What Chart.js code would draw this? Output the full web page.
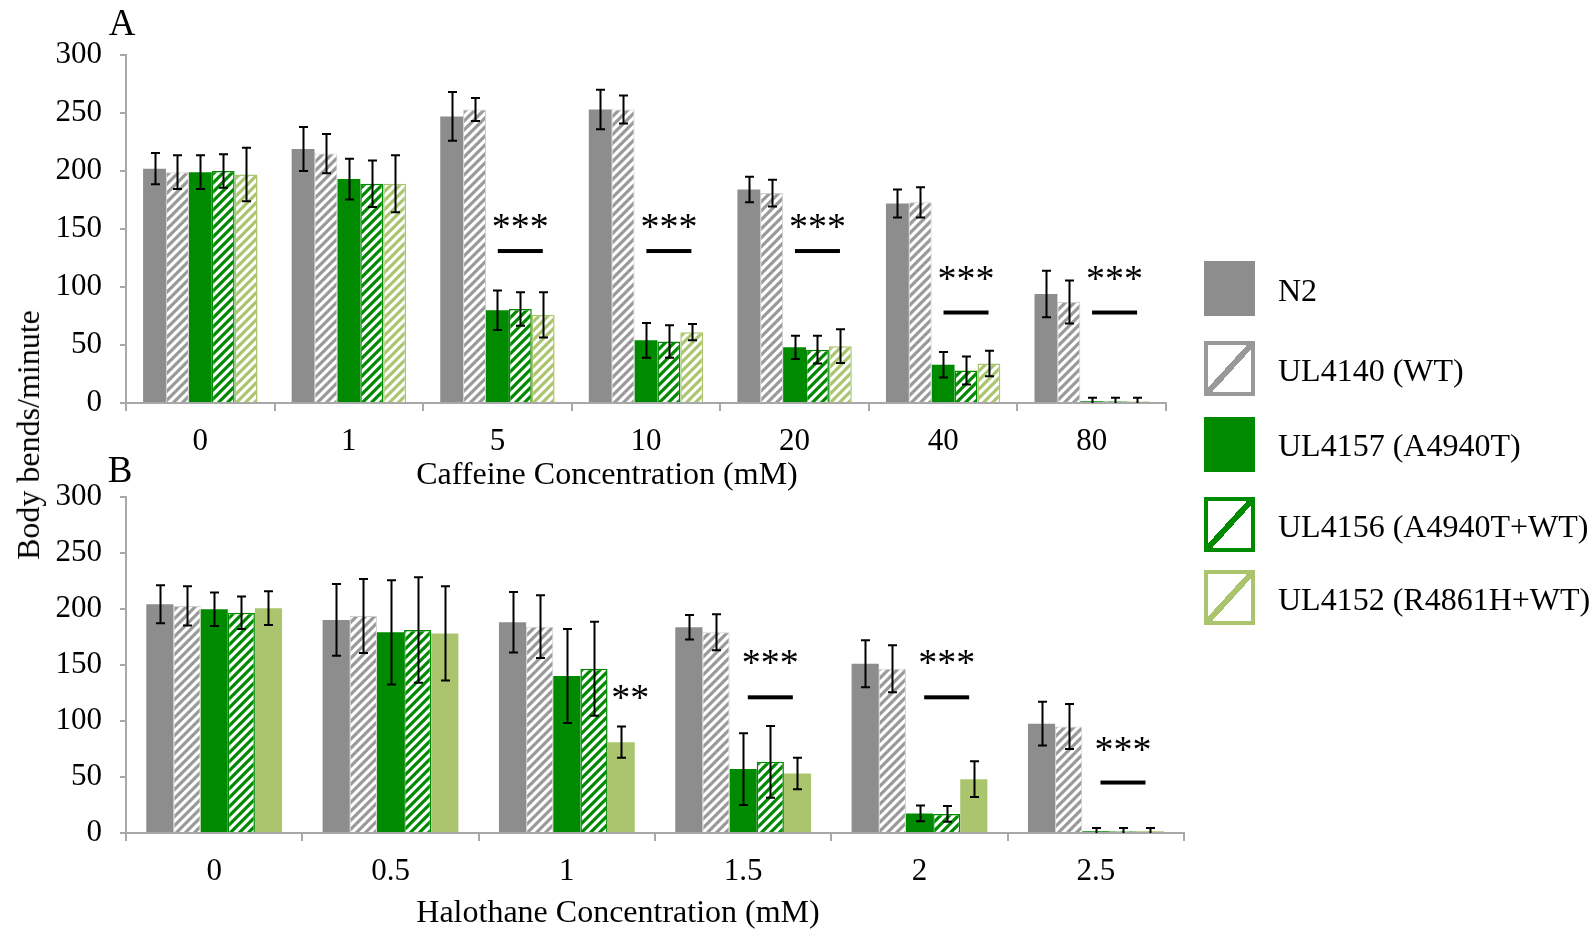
<!DOCTYPE html>
<html>
<head>
<meta charset="utf-8">
<script src="https://cdn.jsdelivr.net/npm/chart.js@4.4.0/dist/chart.umd.min.js"></script>
<style>
  html, body { margin: 0; padding: 0; background: #fff; }
  #page { position: relative; width: 1596px; height: 932px; overflow: hidden;
          font-family: "Liberation Serif", "Times New Roman", serif; color: #000; }
  canvas { position: absolute; left: 0; }
  .lbl { position: absolute; white-space: nowrap; line-height: 1; transform: translate(-50%, -50%); }
  .sw { position: absolute; left: 1204px; width: 51px; height: 55px; box-sizing: border-box; }
  .lg { position: absolute; left: 1278px; font-size: 32px; white-space: nowrap; line-height: 1; transform: translateY(-50%); }
</style>
</head>
<body>
<div id="page">
  <canvas id="chartA" width="1596" height="500" style="top:0"></canvas>
  <canvas id="chartB" width="1596" height="472" style="top:460px"></canvas>

  <div class="lbl" style="left:122px; top:22px; font-size:37px">A</div>
  <div class="lbl" style="left:120px; top:469px; font-size:37px">B</div>
  <div class="lbl" style="left:607px; top:473px; font-size:32px">Caffeine Concentration (mM)</div>
  <div class="lbl" style="left:618px; top:911px; font-size:32px">Halothane Concentration (mM)</div>
  <div class="lbl" style="left:28px; top:435px; font-size:32px; transform: translate(-50%, -50%) rotate(-90deg)">Body bends/minute</div>

  <!-- legend -->
  <div class="sw" style="top:261px; background:#8d8d8d"></div>
  <div class="lg" style="top:290px">N2</div>
  <div class="sw" style="top:341px; border:4px solid #999; background:linear-gradient(to bottom right, transparent calc(50% - 3px), #999 calc(50% - 3px), #999 calc(50% + 3px), transparent calc(50% + 3px)), #fff"></div>
  <div class="lg" style="top:370px">UL4140 (WT)</div>
  <div class="sw" style="top:417px; background:#008a00"></div>
  <div class="lg" style="top:445px">UL4157 (A4940T)</div>
  <div class="sw" style="top:497px; border:4px solid #008a00; background:linear-gradient(to bottom right, transparent calc(50% - 3px), #008a00 calc(50% - 3px), #008a00 calc(50% + 3px), transparent calc(50% + 3px)), #fff"></div>
  <div class="lg" style="top:526px">UL4156 (A4940T+WT)</div>
  <div class="sw" style="top:570px; border:4px solid #aac56e; background:linear-gradient(to bottom right, transparent calc(50% - 3px), #aac56e calc(50% - 3px), #aac56e calc(50% + 3px), transparent calc(50% + 3px)), #fff"></div>
  <div class="lg" style="top:599px">UL4152 (R4861H+WT)</div>
</div>

<script>
// ---- data, panel A (caffeine) ----
const catsA = ['0', '1', '5', '10', '20', '40', '80'];
const n2A      = [202, 219, 247, 253, 184, 172, 94];
const n2ErrA   = [13.5, 19, 21, 17, 11, 12, 20];
const wtA      = [199, 215, 253, 253, 181, 173, 87];
const wtErrA   = [14.5, 17, 10, 12, 11.5, 13, 18.5];
const a4940A   = [199, 193, 80, 54, 48, 33, 1.5];
const a4940ErrA= [14.5, 17.5, 17, 15, 10, 11, 3];
const awA      = [200, 189, 81, 53, 46, 28, 1.5];
const awErrA   = [14.5, 20, 14.5, 14, 12, 12, 3];
const rwA      = [197, 189, 76, 61, 49, 34, 1.5];
const rwErrA   = [23, 24.5, 19.5, 7, 14.5, 11, 3];

// ---- data, panel B (halothane) ----
const catsB = ['0', '0.5', '1', '1.5', '2', '2.5'];
const n2B      = [204, 190, 188, 183.5, 151, 97.5];
const n2ErrB   = [17, 32, 27, 11, 21, 19.5];
const wtB      = [202.5, 193.5, 184, 179, 146.5, 95];
const wtErrB   = [17.5, 33, 28, 16, 21, 20];
const a4940B   = [199.5, 179, 140, 57, 17.5, 1.5];
const a4940ErrB= [15, 46.5, 42, 32, 7, 3];
const awB      = [196.5, 181, 146.5, 63.5, 17, 1.5];
const awErrB   = [14.5, 47, 42, 32, 7, 3];
const rwB      = [200.5, 178, 81, 53, 48, 1.5];
const rwErrB   = [15, 42, 14, 14, 16, 3];

// significance marks: category index, text, text level, bar level
const sigCatsA  = [2, 3, 4, 5, 6];
const sigTextA  = ['***', '***', '***', '***', '***'];
const sigTextYA = [156, 156, 156, 111, 111];
const sigLineYA = [131, 131, 131, 78, 78];

const sigCatsB  = [2, 3, 4, 5];
const sigTextB  = ['**', '***', '***', '***'];
const sigTextYB = [125, 156, 156, 78];
const sigLineYB = [null, 121, 121, 45];

const FONT = '"Liberation Serif", "Times New Roman", serif';
const GRAY = '#8d8d8d', HGRAY = '#9a9a9a', GREEN = '#008a00', LIGHT = '#aac56e';
const AXIS = '#a8a8a8';

function hatch(color) {
  const s = 9;
  const c = document.createElement('canvas');
  c.width = s; c.height = s;
  const g = c.getContext('2d');
  g.fillStyle = '#fff';
  g.fillRect(0, 0, s, s);
  g.strokeStyle = color;
  g.lineWidth = 3.2;
  g.beginPath();
  for (let k = -1; k <= 1; k++) {
    g.moveTo(-s, 2 * s + k * s);
    g.lineTo(2 * s, -s + k * s);
  }
  g.stroke();
  return g.createPattern(c, 'repeat');
}

// error bars drawn from each dataset's errors array
const errorBars = {
  id: 'errorBars',
  afterDatasetsDraw(chart) {
    const ctx = chart.ctx, ys = chart.scales.y;
    ctx.save();
    ctx.strokeStyle = '#000';
    ctx.lineWidth = 2;
    chart.data.datasets.forEach((ds, i) => {
      chart.getDatasetMeta(i).data.forEach((bar, j) => {
        const v = ds.data[j], e = ds.errors[j];
        const top = ys.getPixelForValue(v + e);
        const bot = ys.getPixelForValue(Math.max(v - e, 0));
        const x = Math.round(bar.x) + 0.5;
        ctx.beginPath();
        ctx.moveTo(x, top); ctx.lineTo(x, bot);
        ctx.moveTo(x - 4.5, top); ctx.lineTo(x + 4.5, top);
        if (v - e > 0) { ctx.moveTo(x - 4.5, bot); ctx.lineTo(x + 4.5, bot); }
        ctx.stroke();
      });
    });
    ctx.restore();
  }
};

// asterisks + bars over the mutant groups
const sigMarks = {
  id: 'sigMarks',
  afterDraw(chart, args, opts) {
    const ctx = chart.ctx, ys = chart.scales.y;
    const mid = chart.getDatasetMeta(3).data;   // centre of the three green bars
    const last = chart.getDatasetMeta(4).data;
    const size = 38;
    ctx.save();
    ctx.fillStyle = '#000';
    ctx.textAlign = 'center';
    ctx.textBaseline = 'alphabetic';
    ctx.font = size + 'px ' + FONT;
    opts.cats.forEach((c, k) => {
      const label = opts.text[k];
      const x = label === '**' ? last[c].x + 9 : mid[c].x;
      // asterisk glyph centre sits ~0.44em above the baseline
      ctx.fillText(label, x, ys.getPixelForValue(opts.textY[k]) + size * 0.44);
      if (opts.lineY[k] != null) {
        const y = ys.getPixelForValue(opts.lineY[k]);
        ctx.fillRect(x - 22.5, y - 2, 45, 4);
      }
    });
    ctx.restore();
  }
};

function makeChart(id, cats, sets, sig, o) {
  return new Chart(document.getElementById(id), {
    type: 'bar',
    data: { labels: cats, datasets: sets },
    plugins: [errorBars, sigMarks],
    options: {
      responsive: false,
      animation: false,
      layout: { padding: { left: 0, top: o.top, right: o.right, bottom: 0 } },
      datasets: { bar: { categoryPercentage: 0.77, barPercentage: 1.0 } },
      plugins: {
        legend: { display: false },
        tooltip: { enabled: false },
        sigMarks: sig
      },
      scales: {
        x: {
          ticks: { color: '#000', font: { family: FONT, size: 31 }, padding: 12 },
          grid: { offset: true, drawOnChartArea: false, tickLength: 8, color: AXIS, lineWidth: 2 },
          border: { color: AXIS, width: 2 },
          afterFit(s) { s.height = o.xh; }
        },
        y: {
          min: 0, max: 300,
          ticks: { stepSize: 50, color: '#000', font: { family: FONT, size: 31 }, padding: 18 },
          grid: { drawOnChartArea: false, tickLength: 6, color: AXIS, lineWidth: 2 },
          border: { color: AXIS, width: 2 },
          afterFit(s) { s.width = 126; }
        }
      }
    }
  });
}

const setsA = [
  { label: 'N2', data: n2A, errors: n2ErrA, backgroundColor: GRAY },
  { label: 'UL4140 (WT)', data: wtA, errors: wtErrA, backgroundColor: hatch(HGRAY), borderColor: '#cfcfcf', borderWidth: 1 },
  { label: 'UL4157 (A4940T)', data: a4940A, errors: a4940ErrA, backgroundColor: GREEN },
  { label: 'UL4156 (A4940T+WT)', data: awA, errors: awErrA, backgroundColor: hatch(GREEN), borderColor: GREEN, borderWidth: 1.5 },
  { label: 'UL4152 (R4861H+WT)', data: rwA, errors: rwErrA, backgroundColor: hatch(LIGHT), borderColor: LIGHT, borderWidth: 1.5 }
];

const setsB = [
  { label: 'N2', data: n2B, errors: n2ErrB, backgroundColor: GRAY },
  { label: 'UL4140 (WT)', data: wtB, errors: wtErrB, backgroundColor: hatch(HGRAY), borderColor: '#cfcfcf', borderWidth: 1 },
  { label: 'UL4157 (A4940T)', data: a4940B, errors: a4940ErrB, backgroundColor: GREEN },
  { label: 'UL4156 (A4940T+WT)', data: awB, errors: awErrB, backgroundColor: hatch(GREEN), borderColor: GREEN, borderWidth: 1.5 },
  { label: 'UL4152 (R4861H+WT)', data: rwB, errors: rwErrB, backgroundColor: LIGHT }
];

makeChart('chartA', catsA, setsA,
  { cats: sigCatsA, text: sigTextA, textY: sigTextYA, lineY: sigLineYA },
  { top: 55, right: 1596 - 1166, xh: 500 - 403 });

makeChart('chartB', catsB, setsB,
  { cats: sigCatsB, text: sigTextB, textY: sigTextYB, lineY: sigLineYB },
  { top: 493 - 460, right: 1596 - 1184, xh: 472 - 373 });
</script>
</body>
</html>
